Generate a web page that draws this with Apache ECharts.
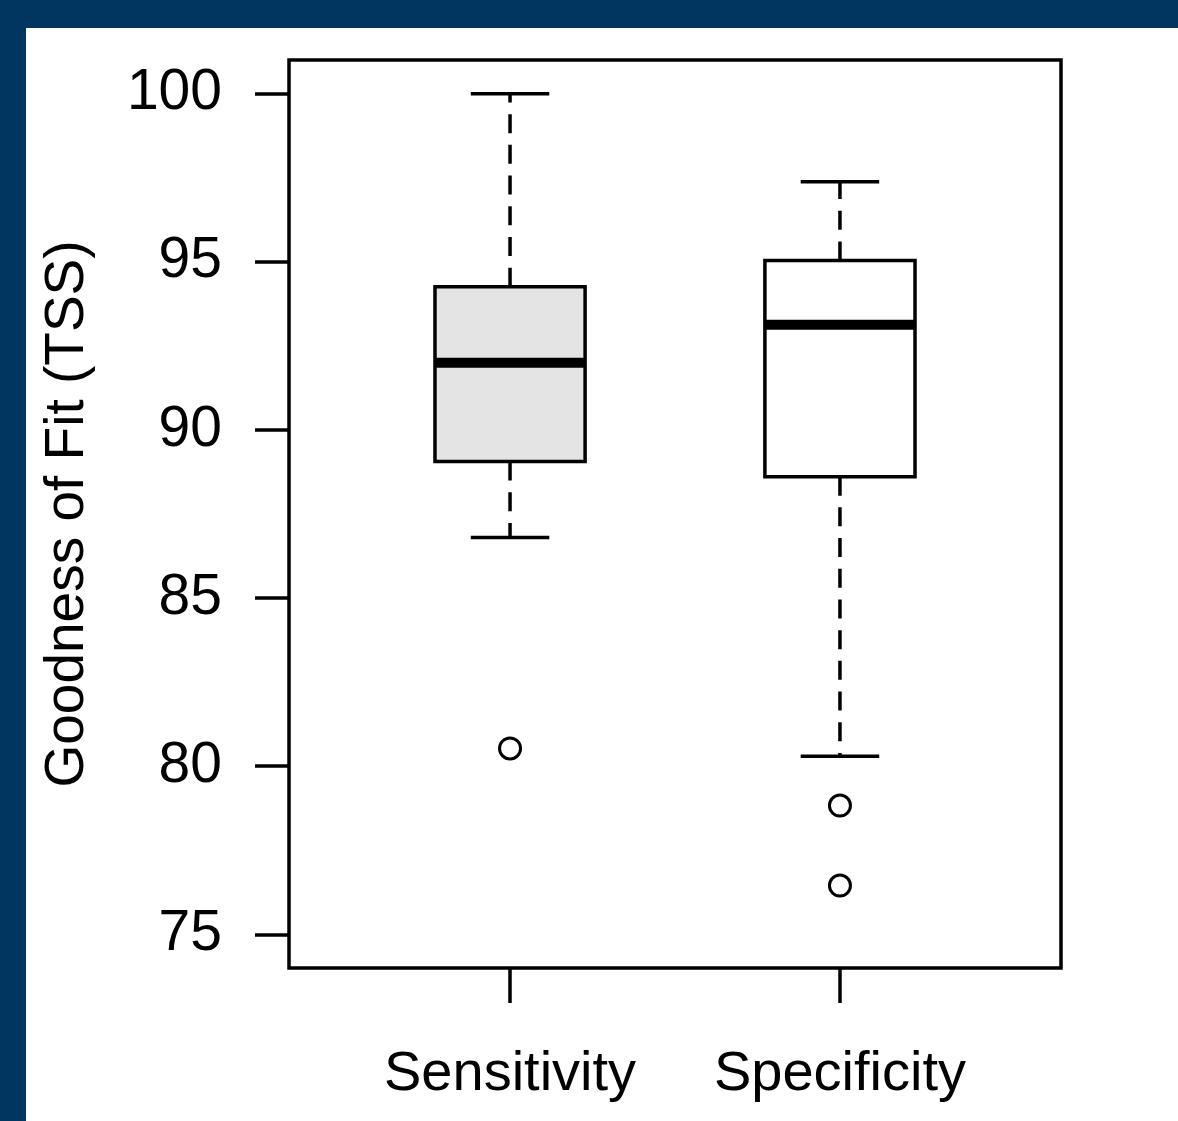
<!DOCTYPE html>
<html>
<head>
<meta charset="utf-8">
<script src="https://cdn.jsdelivr.net/npm/echarts@6.0.0/dist/echarts.min.js"></script>
<style>
    html, body { margin: 0; padding: 0; background: #003660; }
    #chart { position: absolute; left: 26px; top: 28px; width: 1152px; height: 1093px; background: #ffffff; }
</style>
</head>
<body>
<div id="chart"></div>
<script>
// box statistics
var categories = ['Sensitivity', 'Specificity'];
var whiskerLow = [86.8, 80.3];
var q1 = [89.06, 88.61];
var median = [92.0, 93.13];
var q3 = [94.26, 95.04];
var whiskerHigh = [100, 97.38];
var outliers = [[1, 80.53], [2, 78.83], [2, 76.45]];
var yTicks = [75, 80, 85, 90, 95, 100];

var FONT = "'Liberation Sans', Arial, sans-serif";
var boxFill = ['#e4e4e4', '#ffffff'];

var boxData = categories.map(function (name, i) {
    return [i + 1, whiskerLow[i], q1[i], median[i], q3[i], whiskerHigh[i]];
});

var chart = echarts.init(document.getElementById('chart'));

//画箱线
function renderBox(params, api) {
    var x = api.value(0);
    var low = api.coord([x, api.value(1)]);
    var b1 = api.coord([x, api.value(2)]);
    var med = api.coord([x, api.value(3)]);
    var b3 = api.coord([x, api.value(4)]);
    var high = api.coord([x, api.value(5)]);
    var hw = api.size([0.455, 0])[0] / 2;
    var cw = api.size([0.238, 0])[0] / 2;
    var cx = low[0];
    var line = {stroke: '#000', lineWidth: 3.5};
    var dashed = {stroke: '#000', lineWidth: 3.5, lineDash: [19, 11.7]};
    return {
        type: 'group',
        children: [
            {type: 'line', shape: {x1: cx, y1: b3[1], x2: cx, y2: high[1]}, style: dashed},
            {type: 'line', shape: {x1: cx, y1: b1[1], x2: cx, y2: low[1]}, style: dashed},
            {type: 'line', shape: {x1: cx - cw, y1: high[1], x2: cx + cw, y2: high[1]}, style: line},
            {type: 'line', shape: {x1: cx - cw, y1: low[1], x2: cx + cw, y2: low[1]}, style: line},
            {
                type: 'rect',
                shape: {x: cx - hw, y: b3[1], width: hw * 2, height: b1[1] - b3[1]},
                style: {fill: boxFill[params.dataIndex], stroke: '#000', lineWidth: 3.5}
            },
            {type: 'line', shape: {x1: cx - hw, y1: med[1], x2: cx + hw, y2: med[1]}, style: {stroke: '#000', lineWidth: 10}}
        ]
    };
}

chart.setOption({
    animation: false,
    grid: {
        left: 263,
        top: 32,
        width: 772,
        height: 908,
        show: true,
        borderColor: '#000',
        borderWidth: 3.5,
        backgroundColor: 'transparent'
    },
    xAxis: {
        type: 'value',
        min: 0.33,
        max: 2.67,
        splitLine: {show: false},
        axisLine: {show: false},
        axisTick: {
            show: true,
            length: 35,
            customValues: [1, 2],
            lineStyle: {color: '#000', width: 3.5}
        },
        axisLabel: {
            customValues: [1, 2],
            formatter: function (v) {
                return categories[Math.round(v) - 1];
            },
            margin: 79,
            color: '#000',
            fontSize: 56,
            fontFamily: FONT
        }
    },
    yAxis: {
        type: 'value',
        min: 74.0,
        max: 101.0,
        name: 'Goodness of Fit (TSS)',
        nameLocation: 'middle',
        nameRotate: 90,
        nameGap: 194,
        nameTextStyle: {color: '#000', fontSize: 55, fontFamily: FONT},
        splitLine: {show: false},
        axisLine: {show: false},
        axisTick: {
            show: true,
            length: 34,
            customValues: yTicks,
            lineStyle: {color: '#000', width: 3.5}
        },
        axisLabel: {
            customValues: yTicks,
            margin: 67,
            color: '#000',
            fontSize: 57,
            fontFamily: FONT
        }
    },
    series: [
        {
            type: 'custom',
            renderItem: renderBox,
            data: boxData,
            encode: {x: 0, y: [1, 2, 3, 4, 5]},
            z: 2
        },
        {
            type: 'scatter',
            data: outliers,
            symbol: 'circle',
            symbolSize: 21,
            itemStyle: {color: 'rgba(0,0,0,0)', borderColor: '#000', borderWidth: 3, opacity: 1},
            z: 3
        }
    ]
});
</script>
</body>
</html>
